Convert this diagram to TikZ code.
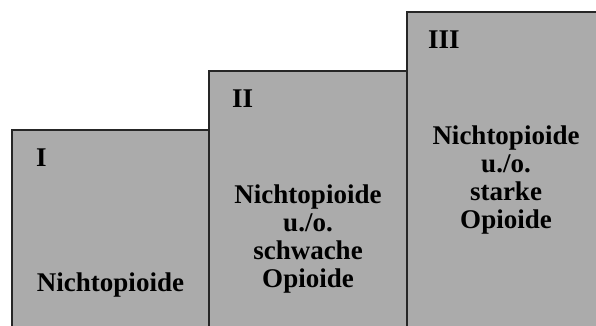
\documentclass[tikz,border=0pt]{standalone}
\usepackage{fontspec}
\setmainfont{Liberation Serif}
\begin{document}
\begin{tikzpicture}[x=1pt,y=-1pt,
  stepbox/.style={draw=black!85, line width=1.4pt, fill=black!33},
  lvl/.style={anchor=west, font=\fontsize{27}{28}\selectfont\bfseries, inner sep=0pt},
  desc/.style={align=center, font=\fontsize{27}{28}\selectfont\bfseries, inner sep=0pt}]
\useasboundingbox (0,0) rectangle (596,325);
\path[stepbox] (12,130) rectangle (209,335);
\path[stepbox] (209,71) rectangle (407,335);
\path[stepbox] (407,12) rectangle (606,335);
\node[lvl] (l1) at (36,158) {I};
\node[lvl] (l2) at (232,99) {II};
\node[lvl] (l3) at (428,40) {III};
\node[desc] (d1) at (110.5,285) {Nichtopioide};
\node[desc] (d2) at (308,239) {Nichtopioide\\u./o.\\schwache\\Opioide};
\node[desc] (d3) at (506,180) {Nichtopioide\\u./o.\\starke\\Opioide};
\end{tikzpicture}
\end{document}
